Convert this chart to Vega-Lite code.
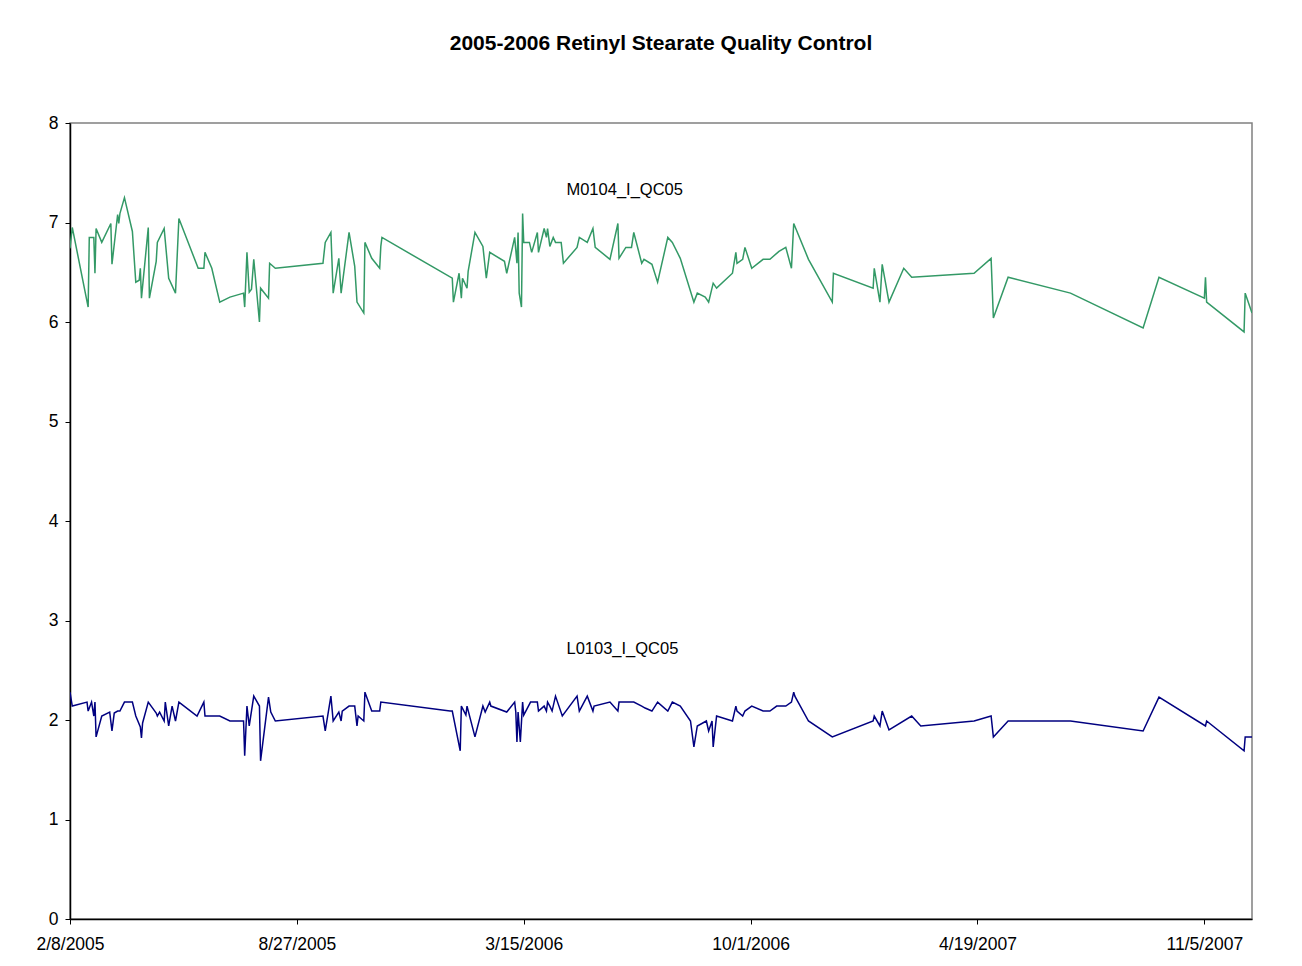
{
  "$schema": "https://vega.github.io/schema/vega-lite/v6.json",
  "autosize": "none",
  "width": 1182,
  "height": 796,
  "padding": {"left": 70, "top": 123, "right": 50, "bottom": 47},
  "background": "white",
  "title": {"text": "2005-2006 Retinyl Stearate Quality Control", "font": "Liberation Sans", "fontSize": 21, "fontWeight": "bold", "color": "black", "anchor": "middle", "offset": 60},
  "config": {"view": {"stroke": "#808080", "strokeWidth": 1.5}},
  "datasets": {
    "qc": [
      {"date": "2005-02-08", "series": "M0104_I_QC05", "value": 6.74},
      {"date": "2005-02-10", "series": "M0104_I_QC05", "value": 6.95},
      {"date": "2005-02-24", "series": "M0104_I_QC05", "value": 6.15},
      {"date": "2005-02-25", "series": "M0104_I_QC05", "value": 6.85},
      {"date": "2005-03-01", "series": "M0104_I_QC05", "value": 6.85},
      {"date": "2005-03-02", "series": "M0104_I_QC05", "value": 6.49},
      {"date": "2005-03-03", "series": "M0104_I_QC05", "value": 6.94},
      {"date": "2005-03-08", "series": "M0104_I_QC05", "value": 6.80},
      {"date": "2005-03-16", "series": "M0104_I_QC05", "value": 6.99},
      {"date": "2005-03-17", "series": "M0104_I_QC05", "value": 6.58},
      {"date": "2005-03-22", "series": "M0104_I_QC05", "value": 7.08},
      {"date": "2005-03-23", "series": "M0104_I_QC05", "value": 6.99},
      {"date": "2005-03-24", "series": "M0104_I_QC05", "value": 7.09},
      {"date": "2005-03-28", "series": "M0104_I_QC05", "value": 7.25},
      {"date": "2005-04-04", "series": "M0104_I_QC05", "value": 6.91},
      {"date": "2005-04-07", "series": "M0104_I_QC05", "value": 6.40},
      {"date": "2005-04-10", "series": "M0104_I_QC05", "value": 6.42},
      {"date": "2005-04-11", "series": "M0104_I_QC05", "value": 6.54},
      {"date": "2005-04-12", "series": "M0104_I_QC05", "value": 6.24},
      {"date": "2005-04-18", "series": "M0104_I_QC05", "value": 6.95},
      {"date": "2005-04-19", "series": "M0104_I_QC05", "value": 6.24},
      {"date": "2005-04-25", "series": "M0104_I_QC05", "value": 6.61},
      {"date": "2005-04-26", "series": "M0104_I_QC05", "value": 6.80},
      {"date": "2005-05-02", "series": "M0104_I_QC05", "value": 6.94},
      {"date": "2005-05-06", "series": "M0104_I_QC05", "value": 6.44},
      {"date": "2005-05-12", "series": "M0104_I_QC05", "value": 6.29},
      {"date": "2005-05-15", "series": "M0104_I_QC05", "value": 7.04},
      {"date": "2005-06-01", "series": "M0104_I_QC05", "value": 6.54},
      {"date": "2005-06-06", "series": "M0104_I_QC05", "value": 6.54},
      {"date": "2005-06-07", "series": "M0104_I_QC05", "value": 6.70},
      {"date": "2005-06-13", "series": "M0104_I_QC05", "value": 6.54},
      {"date": "2005-06-20", "series": "M0104_I_QC05", "value": 6.20},
      {"date": "2005-06-29", "series": "M0104_I_QC05", "value": 6.25},
      {"date": "2005-07-11", "series": "M0104_I_QC05", "value": 6.29},
      {"date": "2005-07-12", "series": "M0104_I_QC05", "value": 6.15},
      {"date": "2005-07-14", "series": "M0104_I_QC05", "value": 6.70},
      {"date": "2005-07-16", "series": "M0104_I_QC05", "value": 6.30},
      {"date": "2005-07-18", "series": "M0104_I_QC05", "value": 6.33},
      {"date": "2005-07-20", "series": "M0104_I_QC05", "value": 6.63},
      {"date": "2005-07-25", "series": "M0104_I_QC05", "value": 6.00},
      {"date": "2005-07-26", "series": "M0104_I_QC05", "value": 6.34},
      {"date": "2005-08-02", "series": "M0104_I_QC05", "value": 6.24},
      {"date": "2005-08-03", "series": "M0104_I_QC05", "value": 6.59},
      {"date": "2005-08-08", "series": "M0104_I_QC05", "value": 6.54},
      {"date": "2005-09-19", "series": "M0104_I_QC05", "value": 6.59},
      {"date": "2005-09-21", "series": "M0104_I_QC05", "value": 6.80},
      {"date": "2005-09-26", "series": "M0104_I_QC05", "value": 6.90},
      {"date": "2005-09-28", "series": "M0104_I_QC05", "value": 6.29},
      {"date": "2005-10-03", "series": "M0104_I_QC05", "value": 6.64},
      {"date": "2005-10-05", "series": "M0104_I_QC05", "value": 6.29},
      {"date": "2005-10-12", "series": "M0104_I_QC05", "value": 6.90},
      {"date": "2005-10-17", "series": "M0104_I_QC05", "value": 6.56},
      {"date": "2005-10-19", "series": "M0104_I_QC05", "value": 6.20},
      {"date": "2005-10-25", "series": "M0104_I_QC05", "value": 6.09},
      {"date": "2005-10-26", "series": "M0104_I_QC05", "value": 6.80},
      {"date": "2005-11-01", "series": "M0104_I_QC05", "value": 6.64},
      {"date": "2005-11-08", "series": "M0104_I_QC05", "value": 6.54},
      {"date": "2005-11-09", "series": "M0104_I_QC05", "value": 6.76},
      {"date": "2005-11-10", "series": "M0104_I_QC05", "value": 6.85},
      {"date": "2006-01-11", "series": "M0104_I_QC05", "value": 6.44},
      {"date": "2006-01-12", "series": "M0104_I_QC05", "value": 6.20},
      {"date": "2006-01-17", "series": "M0104_I_QC05", "value": 6.49},
      {"date": "2006-01-19", "series": "M0104_I_QC05", "value": 6.24},
      {"date": "2006-01-20", "series": "M0104_I_QC05", "value": 6.44},
      {"date": "2006-01-24", "series": "M0104_I_QC05", "value": 6.34},
      {"date": "2006-01-25", "series": "M0104_I_QC05", "value": 6.51},
      {"date": "2006-01-31", "series": "M0104_I_QC05", "value": 6.90},
      {"date": "2006-02-07", "series": "M0104_I_QC05", "value": 6.76},
      {"date": "2006-02-10", "series": "M0104_I_QC05", "value": 6.44},
      {"date": "2006-02-13", "series": "M0104_I_QC05", "value": 6.70},
      {"date": "2006-02-26", "series": "M0104_I_QC05", "value": 6.61},
      {"date": "2006-02-28", "series": "M0104_I_QC05", "value": 6.49},
      {"date": "2006-03-07", "series": "M0104_I_QC05", "value": 6.85},
      {"date": "2006-03-09", "series": "M0104_I_QC05", "value": 6.59},
      {"date": "2006-03-10", "series": "M0104_I_QC05", "value": 6.90},
      {"date": "2006-03-11", "series": "M0104_I_QC05", "value": 6.29},
      {"date": "2006-03-13", "series": "M0104_I_QC05", "value": 6.15},
      {"date": "2006-03-14", "series": "M0104_I_QC05", "value": 7.09},
      {"date": "2006-03-15", "series": "M0104_I_QC05", "value": 6.80},
      {"date": "2006-03-20", "series": "M0104_I_QC05", "value": 6.80},
      {"date": "2006-03-22", "series": "M0104_I_QC05", "value": 6.70},
      {"date": "2006-03-27", "series": "M0104_I_QC05", "value": 6.90},
      {"date": "2006-03-28", "series": "M0104_I_QC05", "value": 6.70},
      {"date": "2006-04-02", "series": "M0104_I_QC05", "value": 6.94},
      {"date": "2006-04-04", "series": "M0104_I_QC05", "value": 6.85},
      {"date": "2006-04-05", "series": "M0104_I_QC05", "value": 6.94},
      {"date": "2006-04-07", "series": "M0104_I_QC05", "value": 6.76},
      {"date": "2006-04-10", "series": "M0104_I_QC05", "value": 6.85},
      {"date": "2006-04-12", "series": "M0104_I_QC05", "value": 6.80},
      {"date": "2006-04-17", "series": "M0104_I_QC05", "value": 6.80},
      {"date": "2006-04-19", "series": "M0104_I_QC05", "value": 6.59},
      {"date": "2006-05-01", "series": "M0104_I_QC05", "value": 6.75},
      {"date": "2006-05-03", "series": "M0104_I_QC05", "value": 6.85},
      {"date": "2006-05-10", "series": "M0104_I_QC05", "value": 6.80},
      {"date": "2006-05-15", "series": "M0104_I_QC05", "value": 6.94},
      {"date": "2006-05-17", "series": "M0104_I_QC05", "value": 6.75},
      {"date": "2006-05-30", "series": "M0104_I_QC05", "value": 6.63},
      {"date": "2006-06-06", "series": "M0104_I_QC05", "value": 6.99},
      {"date": "2006-06-07", "series": "M0104_I_QC05", "value": 6.64},
      {"date": "2006-06-13", "series": "M0104_I_QC05", "value": 6.75},
      {"date": "2006-06-18", "series": "M0104_I_QC05", "value": 6.75},
      {"date": "2006-06-20", "series": "M0104_I_QC05", "value": 6.90},
      {"date": "2006-06-27", "series": "M0104_I_QC05", "value": 6.59},
      {"date": "2006-06-29", "series": "M0104_I_QC05", "value": 6.63},
      {"date": "2006-07-06", "series": "M0104_I_QC05", "value": 6.58},
      {"date": "2006-07-11", "series": "M0104_I_QC05", "value": 6.40},
      {"date": "2006-07-20", "series": "M0104_I_QC05", "value": 6.85},
      {"date": "2006-07-24", "series": "M0104_I_QC05", "value": 6.80},
      {"date": "2006-07-31", "series": "M0104_I_QC05", "value": 6.64},
      {"date": "2006-08-12", "series": "M0104_I_QC05", "value": 6.20},
      {"date": "2006-08-15", "series": "M0104_I_QC05", "value": 6.29},
      {"date": "2006-08-22", "series": "M0104_I_QC05", "value": 6.25},
      {"date": "2006-08-25", "series": "M0104_I_QC05", "value": 6.20},
      {"date": "2006-08-29", "series": "M0104_I_QC05", "value": 6.39},
      {"date": "2006-09-01", "series": "M0104_I_QC05", "value": 6.34},
      {"date": "2006-09-15", "series": "M0104_I_QC05", "value": 6.49},
      {"date": "2006-09-18", "series": "M0104_I_QC05", "value": 6.70},
      {"date": "2006-09-19", "series": "M0104_I_QC05", "value": 6.59},
      {"date": "2006-09-24", "series": "M0104_I_QC05", "value": 6.63},
      {"date": "2006-09-26", "series": "M0104_I_QC05", "value": 6.75},
      {"date": "2006-10-02", "series": "M0104_I_QC05", "value": 6.54},
      {"date": "2006-10-12", "series": "M0104_I_QC05", "value": 6.63},
      {"date": "2006-10-18", "series": "M0104_I_QC05", "value": 6.63},
      {"date": "2006-10-26", "series": "M0104_I_QC05", "value": 6.71},
      {"date": "2006-11-01", "series": "M0104_I_QC05", "value": 6.75},
      {"date": "2006-11-06", "series": "M0104_I_QC05", "value": 6.54},
      {"date": "2006-11-08", "series": "M0104_I_QC05", "value": 6.99},
      {"date": "2006-11-21", "series": "M0104_I_QC05", "value": 6.63},
      {"date": "2006-12-12", "series": "M0104_I_QC05", "value": 6.20},
      {"date": "2006-12-13", "series": "M0104_I_QC05", "value": 6.49},
      {"date": "2007-01-17", "series": "M0104_I_QC05", "value": 6.34},
      {"date": "2007-01-18", "series": "M0104_I_QC05", "value": 6.54},
      {"date": "2007-01-23", "series": "M0104_I_QC05", "value": 6.20},
      {"date": "2007-01-25", "series": "M0104_I_QC05", "value": 6.58},
      {"date": "2007-01-31", "series": "M0104_I_QC05", "value": 6.20},
      {"date": "2007-02-13", "series": "M0104_I_QC05", "value": 6.54},
      {"date": "2007-02-20", "series": "M0104_I_QC05", "value": 6.45},
      {"date": "2007-04-16", "series": "M0104_I_QC05", "value": 6.49},
      {"date": "2007-05-01", "series": "M0104_I_QC05", "value": 6.64},
      {"date": "2007-05-03", "series": "M0104_I_QC05", "value": 6.04},
      {"date": "2007-05-16", "series": "M0104_I_QC05", "value": 6.45},
      {"date": "2007-07-10", "series": "M0104_I_QC05", "value": 6.29},
      {"date": "2007-09-12", "series": "M0104_I_QC05", "value": 5.94},
      {"date": "2007-09-26", "series": "M0104_I_QC05", "value": 6.45},
      {"date": "2007-11-05", "series": "M0104_I_QC05", "value": 6.24},
      {"date": "2007-11-06", "series": "M0104_I_QC05", "value": 6.45},
      {"date": "2007-11-07", "series": "M0104_I_QC05", "value": 6.20},
      {"date": "2007-12-10", "series": "M0104_I_QC05", "value": 5.90},
      {"date": "2007-12-11", "series": "M0104_I_QC05", "value": 6.29},
      {"date": "2007-12-17", "series": "M0104_I_QC05", "value": 6.09},

      {"date": "2005-02-08", "series": "L0103_I_QC05", "value": 2.28},
      {"date": "2005-02-10", "series": "L0103_I_QC05", "value": 2.14},
      {"date": "2005-02-23", "series": "L0103_I_QC05", "value": 2.18},
      {"date": "2005-02-24", "series": "L0103_I_QC05", "value": 2.09},
      {"date": "2005-02-27", "series": "L0103_I_QC05", "value": 2.18},
      {"date": "2005-03-01", "series": "L0103_I_QC05", "value": 2.04},
      {"date": "2005-03-02", "series": "L0103_I_QC05", "value": 2.18},
      {"date": "2005-03-03", "series": "L0103_I_QC05", "value": 1.83},
      {"date": "2005-03-08", "series": "L0103_I_QC05", "value": 2.04},
      {"date": "2005-03-15", "series": "L0103_I_QC05", "value": 2.08},
      {"date": "2005-03-17", "series": "L0103_I_QC05", "value": 1.89},
      {"date": "2005-03-19", "series": "L0103_I_QC05", "value": 2.07},
      {"date": "2005-03-22", "series": "L0103_I_QC05", "value": 2.09},
      {"date": "2005-03-24", "series": "L0103_I_QC05", "value": 2.09},
      {"date": "2005-03-28", "series": "L0103_I_QC05", "value": 2.18},
      {"date": "2005-04-04", "series": "L0103_I_QC05", "value": 2.18},
      {"date": "2005-04-07", "series": "L0103_I_QC05", "value": 2.04},
      {"date": "2005-04-11", "series": "L0103_I_QC05", "value": 1.93},
      {"date": "2005-04-12", "series": "L0103_I_QC05", "value": 1.82},
      {"date": "2005-04-13", "series": "L0103_I_QC05", "value": 1.97},
      {"date": "2005-04-18", "series": "L0103_I_QC05", "value": 2.18},
      {"date": "2005-04-25", "series": "L0103_I_QC05", "value": 2.07},
      {"date": "2005-04-26", "series": "L0103_I_QC05", "value": 2.04},
      {"date": "2005-04-28", "series": "L0103_I_QC05", "value": 2.08},
      {"date": "2005-05-02", "series": "L0103_I_QC05", "value": 1.99},
      {"date": "2005-05-03", "series": "L0103_I_QC05", "value": 2.18},
      {"date": "2005-05-06", "series": "L0103_I_QC05", "value": 1.94},
      {"date": "2005-05-09", "series": "L0103_I_QC05", "value": 2.14},
      {"date": "2005-05-12", "series": "L0103_I_QC05", "value": 1.99},
      {"date": "2005-05-15", "series": "L0103_I_QC05", "value": 2.18},
      {"date": "2005-05-31", "series": "L0103_I_QC05", "value": 2.04},
      {"date": "2005-06-06", "series": "L0103_I_QC05", "value": 2.18},
      {"date": "2005-06-07", "series": "L0103_I_QC05", "value": 2.04},
      {"date": "2005-06-20", "series": "L0103_I_QC05", "value": 2.04},
      {"date": "2005-06-29", "series": "L0103_I_QC05", "value": 1.99},
      {"date": "2005-07-11", "series": "L0103_I_QC05", "value": 1.99},
      {"date": "2005-07-12", "series": "L0103_I_QC05", "value": 1.64},
      {"date": "2005-07-14", "series": "L0103_I_QC05", "value": 2.14},
      {"date": "2005-07-16", "series": "L0103_I_QC05", "value": 1.94},
      {"date": "2005-07-20", "series": "L0103_I_QC05", "value": 2.24},
      {"date": "2005-07-25", "series": "L0103_I_QC05", "value": 2.14},
      {"date": "2005-07-26", "series": "L0103_I_QC05", "value": 1.59},
      {"date": "2005-08-02", "series": "L0103_I_QC05", "value": 2.23},
      {"date": "2005-08-04", "series": "L0103_I_QC05", "value": 2.08},
      {"date": "2005-08-08", "series": "L0103_I_QC05", "value": 1.99},
      {"date": "2005-09-19", "series": "L0103_I_QC05", "value": 2.04},
      {"date": "2005-09-21", "series": "L0103_I_QC05", "value": 1.89},
      {"date": "2005-09-26", "series": "L0103_I_QC05", "value": 2.24},
      {"date": "2005-09-28", "series": "L0103_I_QC05", "value": 1.99},
      {"date": "2005-10-03", "series": "L0103_I_QC05", "value": 2.08},
      {"date": "2005-10-05", "series": "L0103_I_QC05", "value": 1.99},
      {"date": "2005-10-06", "series": "L0103_I_QC05", "value": 2.09},
      {"date": "2005-10-12", "series": "L0103_I_QC05", "value": 2.14},
      {"date": "2005-10-17", "series": "L0103_I_QC05", "value": 2.14},
      {"date": "2005-10-19", "series": "L0103_I_QC05", "value": 1.94},
      {"date": "2005-10-20", "series": "L0103_I_QC05", "value": 2.04},
      {"date": "2005-10-25", "series": "L0103_I_QC05", "value": 1.99},
      {"date": "2005-10-26", "series": "L0103_I_QC05", "value": 2.28},
      {"date": "2005-11-01", "series": "L0103_I_QC05", "value": 2.09},
      {"date": "2005-11-08", "series": "L0103_I_QC05", "value": 2.09},
      {"date": "2005-11-09", "series": "L0103_I_QC05", "value": 2.18},
      {"date": "2006-01-09", "series": "L0103_I_QC05", "value": 2.09},
      {"date": "2006-01-11", "series": "L0103_I_QC05", "value": 2.09},
      {"date": "2006-01-18", "series": "L0103_I_QC05", "value": 1.69},
      {"date": "2006-01-19", "series": "L0103_I_QC05", "value": 2.14},
      {"date": "2006-01-23", "series": "L0103_I_QC05", "value": 2.05},
      {"date": "2006-01-24", "series": "L0103_I_QC05", "value": 2.14},
      {"date": "2006-01-31", "series": "L0103_I_QC05", "value": 1.83},
      {"date": "2006-02-07", "series": "L0103_I_QC05", "value": 2.14},
      {"date": "2006-02-09", "series": "L0103_I_QC05", "value": 2.08},
      {"date": "2006-02-13", "series": "L0103_I_QC05", "value": 2.18},
      {"date": "2006-02-14", "series": "L0103_I_QC05", "value": 2.14},
      {"date": "2006-02-28", "series": "L0103_I_QC05", "value": 2.08},
      {"date": "2006-03-07", "series": "L0103_I_QC05", "value": 2.18},
      {"date": "2006-03-08", "series": "L0103_I_QC05", "value": 2.08},
      {"date": "2006-03-09", "series": "L0103_I_QC05", "value": 1.78},
      {"date": "2006-03-10", "series": "L0103_I_QC05", "value": 2.08},
      {"date": "2006-03-12", "series": "L0103_I_QC05", "value": 1.78},
      {"date": "2006-03-14", "series": "L0103_I_QC05", "value": 2.18},
      {"date": "2006-03-15", "series": "L0103_I_QC05", "value": 2.05},
      {"date": "2006-03-21", "series": "L0103_I_QC05", "value": 2.18},
      {"date": "2006-03-27", "series": "L0103_I_QC05", "value": 2.18},
      {"date": "2006-03-28", "series": "L0103_I_QC05", "value": 2.09},
      {"date": "2006-04-02", "series": "L0103_I_QC05", "value": 2.14},
      {"date": "2006-04-04", "series": "L0103_I_QC05", "value": 2.09},
      {"date": "2006-04-05", "series": "L0103_I_QC05", "value": 2.18},
      {"date": "2006-04-07", "series": "L0103_I_QC05", "value": 2.14},
      {"date": "2006-04-09", "series": "L0103_I_QC05", "value": 2.09},
      {"date": "2006-04-12", "series": "L0103_I_QC05", "value": 2.24},
      {"date": "2006-04-18", "series": "L0103_I_QC05", "value": 2.04},
      {"date": "2006-05-01", "series": "L0103_I_QC05", "value": 2.24},
      {"date": "2006-05-03", "series": "L0103_I_QC05", "value": 2.09},
      {"date": "2006-05-10", "series": "L0103_I_QC05", "value": 2.24},
      {"date": "2006-05-15", "series": "L0103_I_QC05", "value": 2.09},
      {"date": "2006-05-16", "series": "L0103_I_QC05", "value": 2.14},
      {"date": "2006-05-30", "series": "L0103_I_QC05", "value": 2.18},
      {"date": "2006-06-06", "series": "L0103_I_QC05", "value": 2.09},
      {"date": "2006-06-07", "series": "L0103_I_QC05", "value": 2.18},
      {"date": "2006-06-20", "series": "L0103_I_QC05", "value": 2.18},
      {"date": "2006-06-27", "series": "L0103_I_QC05", "value": 2.14},
      {"date": "2006-06-30", "series": "L0103_I_QC05", "value": 2.12},
      {"date": "2006-07-06", "series": "L0103_I_QC05", "value": 2.09},
      {"date": "2006-07-11", "series": "L0103_I_QC05", "value": 2.18},
      {"date": "2006-07-20", "series": "L0103_I_QC05", "value": 2.09},
      {"date": "2006-07-24", "series": "L0103_I_QC05", "value": 2.18},
      {"date": "2006-07-31", "series": "L0103_I_QC05", "value": 2.14},
      {"date": "2006-08-09", "series": "L0103_I_QC05", "value": 1.99},
      {"date": "2006-08-12", "series": "L0103_I_QC05", "value": 1.73},
      {"date": "2006-08-15", "series": "L0103_I_QC05", "value": 1.94},
      {"date": "2006-08-23", "series": "L0103_I_QC05", "value": 1.99},
      {"date": "2006-08-25", "series": "L0103_I_QC05", "value": 1.89},
      {"date": "2006-08-28", "series": "L0103_I_QC05", "value": 1.99},
      {"date": "2006-08-29", "series": "L0103_I_QC05", "value": 1.73},
      {"date": "2006-09-01", "series": "L0103_I_QC05", "value": 2.04},
      {"date": "2006-09-15", "series": "L0103_I_QC05", "value": 1.99},
      {"date": "2006-09-18", "series": "L0103_I_QC05", "value": 2.14},
      {"date": "2006-09-19", "series": "L0103_I_QC05", "value": 2.09},
      {"date": "2006-09-24", "series": "L0103_I_QC05", "value": 2.04},
      {"date": "2006-09-26", "series": "L0103_I_QC05", "value": 2.09},
      {"date": "2006-10-02", "series": "L0103_I_QC05", "value": 2.14},
      {"date": "2006-10-12", "series": "L0103_I_QC05", "value": 2.09},
      {"date": "2006-10-18", "series": "L0103_I_QC05", "value": 2.09},
      {"date": "2006-10-24", "series": "L0103_I_QC05", "value": 2.14},
      {"date": "2006-11-01", "series": "L0103_I_QC05", "value": 2.14},
      {"date": "2006-11-06", "series": "L0103_I_QC05", "value": 2.18},
      {"date": "2006-11-08", "series": "L0103_I_QC05", "value": 2.28},
      {"date": "2006-11-09", "series": "L0103_I_QC05", "value": 2.24},
      {"date": "2006-11-21", "series": "L0103_I_QC05", "value": 1.99},
      {"date": "2006-12-12", "series": "L0103_I_QC05", "value": 1.83},
      {"date": "2007-01-17", "series": "L0103_I_QC05", "value": 1.99},
      {"date": "2007-01-18", "series": "L0103_I_QC05", "value": 2.04},
      {"date": "2007-01-23", "series": "L0103_I_QC05", "value": 1.94},
      {"date": "2007-01-25", "series": "L0103_I_QC05", "value": 2.09},
      {"date": "2007-01-31", "series": "L0103_I_QC05", "value": 1.90},
      {"date": "2007-02-20", "series": "L0103_I_QC05", "value": 2.04},
      {"date": "2007-02-28", "series": "L0103_I_QC05", "value": 1.94},
      {"date": "2007-04-16", "series": "L0103_I_QC05", "value": 1.99},
      {"date": "2007-05-01", "series": "L0103_I_QC05", "value": 2.04},
      {"date": "2007-05-03", "series": "L0103_I_QC05", "value": 1.83},
      {"date": "2007-05-16", "series": "L0103_I_QC05", "value": 1.99},
      {"date": "2007-07-10", "series": "L0103_I_QC05", "value": 1.99},
      {"date": "2007-09-12", "series": "L0103_I_QC05", "value": 1.89},
      {"date": "2007-09-26", "series": "L0103_I_QC05", "value": 2.23},
      {"date": "2007-11-06", "series": "L0103_I_QC05", "value": 1.94},
      {"date": "2007-11-07", "series": "L0103_I_QC05", "value": 1.99},
      {"date": "2007-12-10", "series": "L0103_I_QC05", "value": 1.69},
      {"date": "2007-12-11", "series": "L0103_I_QC05", "value": 1.83},
      {"date": "2007-12-17", "series": "L0103_I_QC05", "value": 1.83}
    ],
    "labels": [
      {"date": "2006-06-12", "value": 7.33, "label": "M0104_I_QC05"},
      {"date": "2006-06-10", "value": 2.71, "label": "L0103_I_QC05"}
    ]
  },
  "encoding": {
    "x": {
      "field": "date", "type": "temporal",
      "scale": {"type": "utc", "domain": [{"year": 2005, "month": 2, "date": 8, "utc": true}, {"year": 2007, "month": 12, "date": 17, "utc": true}]},
      "axis": {
        "title": null,
        "values": [
          {"year": 2005, "month": 2, "date": 8, "utc": true},
          {"year": 2005, "month": 8, "date": 27, "utc": true},
          {"year": 2006, "month": 3, "date": 15, "utc": true},
          {"year": 2006, "month": 10, "date": 1, "utc": true},
          {"year": 2007, "month": 4, "date": 19, "utc": true},
          {"year": 2007, "month": 11, "date": 5, "utc": true}
        ],
        "format": "%-m/%-d/%Y",
        "grid": false,
        "domainColor": "black",
        "domainWidth": 1.5,
        "tickColor": "black",
        "tickSize": 5,
        "labelFont": "Liberation Sans",
        "labelFontSize": 17.5,
        "labelColor": "black",
        "labelPadding": 11,
        "labelFlush": false,
        "labelOverlap": false
      }
    },
    "y": {
      "field": "value", "type": "quantitative",
      "scale": {"domain": [0, 8], "nice": false, "zero": true},
      "axis": {
        "title": null,
        "values": [0, 1, 2, 3, 4, 5, 6, 7, 8],
        "format": "d",
        "grid": false,
        "domainColor": "black",
        "domainWidth": 1.5,
        "tickColor": "black",
        "tickSize": 5,
        "labelFont": "Liberation Sans",
        "labelFontSize": 17.5,
        "labelColor": "black",
        "labelPadding": 7
      }
    }
  },
  "layer": [
    {
      "data": {"name": "qc"},
      "mark": {"type": "line", "strokeWidth": 1.5, "clip": true},
      "encoding": {
        "color": {
          "field": "series", "type": "nominal",
          "scale": {"domain": ["M0104_I_QC05", "L0103_I_QC05"], "range": ["#339966", "#000080"]},
          "legend": null
        },
        "order": {"field": "date", "type": "temporal"}
      }
    },
    {
      "data": {"name": "labels"},
      "mark": {"type": "text", "font": "Liberation Sans", "fontSize": 16.5, "color": "black", "align": "center", "baseline": "middle"},
      "encoding": {
        "text": {"field": "label"}
      }
    }
  ]
}
